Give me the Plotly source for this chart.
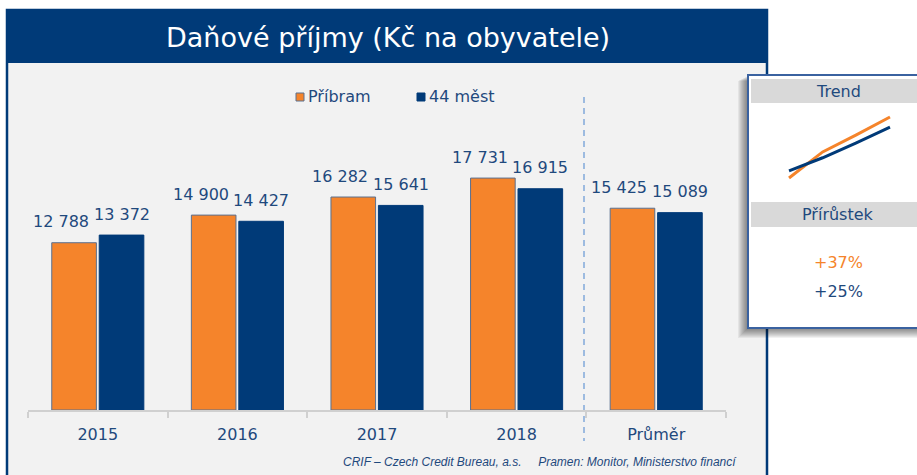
import plotly.graph_objects as go

# ---------------- data ----------------
categories = ["2015", "2016", "2017", "2018", "Průměr"]
pribram = [12788, 14900, 16282, 17731, 15425]
mest44 = [13372, 14427, 15641, 16915, 15089]
series_names = ["Příbram", "44 měst"]
trend_years = ["2015", "2016", "2017", "2018"]
growth_labels = ["+37%", "+25%"]
title_text = "Daňové příjmy (Kč na obyvatele)"
footer_text = "CRIF – Czech Credit Bureau, a.s.     Pramen: Monitor, Ministerstvo financí"

# ---------------- style ----------------
W, H = 917, 475
ORANGE = "#F5842B"
NAVY = "#003A78"
TXT = "#1F497D"
PANEL = "#F2F2F2"
BAND = "#D9D9D9"
FONT = "DejaVu Sans"


def fx(p):
    return p / W


def fy(p):
    return (H - p) / H


def fmt(v):
    return f"{v:,}".replace(",", " ")


idx = list(range(len(categories)))

fig = go.Figure()
fig.add_bar(x=idx, y=pribram, name=series_names[0], showlegend=False,
            marker=dict(color=ORANGE, line=dict(color="#5A7090", width=1)))
fig.add_bar(x=idx, y=mest44, name=series_names[1], showlegend=False,
            marker=dict(color=NAVY, line=dict(color=NAVY, width=1)))

# trend mini chart
tx = list(range(len(trend_years)))
fig.add_scatter(x=tx, y=pribram[:4], mode="lines", xaxis="x2", yaxis="y2",
                line=dict(color=ORANGE, width=3), showlegend=False, hoverinfo="skip")
fig.add_scatter(x=tx, y=mest44[:4], mode="lines", xaxis="x2", yaxis="y2",
                line=dict(color=NAVY, width=3), showlegend=False, hoverinfo="skip")

shapes = []
# main panel
shapes.append(dict(type="rect", xref="paper", yref="paper", layer="below",
                   x0=fx(7), x1=fx(767), y0=fy(480), y1=fy(10),
                   fillcolor=PANEL, line=dict(color=NAVY, width=2.5)))
shapes.append(dict(type="rect", xref="paper", yref="paper", layer="below",
                   x0=fx(7), x1=fx(767), y0=fy(63), y1=fy(10),
                   fillcolor=NAVY, line=dict(width=0)))
# dashed separator
shapes.append(dict(type="line", xref="paper", yref="paper", layer="below",
                   x0=fx(584), x1=fx(584), y0=fy(97), y1=fy(441),
                   line=dict(color="#9DBBE0", width=2, dash="6px,5px")))
# legend squares
shapes.append(dict(type="rect", xref="paper", yref="paper", layer="above",
                   x0=fx(296), x1=fx(304), y0=fy(101), y1=fy(93),
                   fillcolor=ORANGE, line=dict(color="#5A7090", width=1)))
shapes.append(dict(type="rect", xref="paper", yref="paper", layer="above",
                   x0=fx(417), x1=fx(425), y0=fy(101), y1=fy(93),
                   fillcolor=NAVY, line=dict(color=NAVY, width=1)))
# side panel shadow
for k in range(1, 11):
    shapes.append(dict(type="rect", xref="paper", yref="paper", layer="below",
                       x0=fx(748 - k), x1=fx(925), y0=fy(328 + k), y1=fy(76 + k // 2),
                       fillcolor="rgba(0,0,0,0.055)", line=dict(width=0)))
# side panel
shapes.append(dict(type="rect", xref="paper", yref="paper", layer="below",
                   x0=fx(748), x1=fx(925), y0=fy(328), y1=fy(75),
                   fillcolor="white", line=dict(color="#3A62A0", width=2)))
shapes.append(dict(type="rect", xref="paper", yref="paper", layer="below",
                   x0=fx(751), x1=fx(925), y0=fy(103), y1=fy(79),
                   fillcolor=BAND, line=dict(width=0)))
shapes.append(dict(type="rect", xref="paper", yref="paper", layer="below",
                   x0=fx(751), x1=fx(925), y0=fy(227), y1=fy(202),
                   fillcolor=BAND, line=dict(width=0)))

annotations = []
annotations.append(dict(text=title_text, xref="paper", yref="paper", x=fx(388), y=fy(38),
                        showarrow=False, xanchor="center", yanchor="middle",
                        font=dict(family=FONT, size=27, color="white")))
annotations.append(dict(text=footer_text, xref="paper", yref="paper", x=fx(739), y=fy(462),
                        showarrow=False, xanchor="right", yanchor="middle",
                        font=dict(family="Liberation Sans", size=12, color=TXT, style="italic")))
# legend text
annotations.append(dict(text=series_names[0], xref="paper", yref="paper", x=fx(306), y=fy(96),
                        showarrow=False, xanchor="left", yanchor="middle",
                        font=dict(family=FONT, size=16, color=TXT)))
annotations.append(dict(text=series_names[1], xref="paper", yref="paper", x=fx(427), y=fy(96),
                        showarrow=False, xanchor="left", yanchor="middle",
                        font=dict(family=FONT, size=16, color=TXT)))
# value labels
for i, v in enumerate(pribram):
    annotations.append(dict(text=fmt(v), x=i - 0.17, y=v, xref="x", yref="y",
                            showarrow=False, xanchor="center", yanchor="middle",
                            yshift=21, xshift=-13,
                            font=dict(family=FONT, size=16, color=TXT)))
for i, v in enumerate(mest44):
    annotations.append(dict(text=fmt(v), x=i + 0.17, y=v, xref="x", yref="y",
                            showarrow=False, xanchor="center", yanchor="middle",
                            yshift=21, xshift=0,
                            font=dict(family=FONT, size=16, color=TXT)))
# side panel text
for txt, py_, col in [("Trend", 91, TXT), ("Přírůstek", 214, TXT),
                      (growth_labels[0], 262, ORANGE), (growth_labels[1], 291, TXT)]:
    annotations.append(dict(text=txt, xref="paper", yref="paper", x=fx(838), y=fy(py_),
                            showarrow=False, xanchor="center", yanchor="middle",
                            font=dict(family=FONT, size=16, color=col)))

scale = 76.45  # value per pixel
fig.update_layout(
    width=W, height=H,
    margin=dict(l=0, r=0, t=0, b=0),
    paper_bgcolor="white",
    plot_bgcolor="rgba(0,0,0,0)",
    barmode="group", bargap=0.32, bargroupgap=0.06,
    showlegend=False,
    shapes=shapes,
    annotations=annotations,
    xaxis=dict(domain=[fx(28), fx(726)], range=[-0.5, 4.5],
               tickmode="array", tickvals=idx, ticktext=categories,
               ticks="outside", ticklen=9, tickcolor="rgba(0,0,0,0)",
               tickfont=dict(family=FONT, size=16, color=TXT),
               showline=True, linecolor="#D0D0D0", linewidth=1.5,
               showgrid=False, zeroline=False, fixedrange=True,
               minor=dict(tickmode="array", tickvals=[-0.5, 0.5, 1.5, 2.5, 3.5, 4.5],
                          ticks="outside", ticklen=6, tickcolor="#D0D0D0", tickwidth=1.5,
                          showgrid=False)),
    yaxis=dict(domain=[fy(410), fy(80)], range=[0, (410 - 80) * scale],
               visible=False, fixedrange=True),
    xaxis2=dict(domain=[fx(788), fx(891)], range=[-0.03, 3.03], visible=False,
                anchor="y2", fixedrange=True),
    yaxis2=dict(domain=[fy(185), fy(110)], range=[12221, 18296], visible=False,
                anchor="x2", fixedrange=True),
)

fig.write_html("out.html", config={"displayModeBar": False},
               post_script="document.body.style.margin='0';document.body.style.padding='0';")
